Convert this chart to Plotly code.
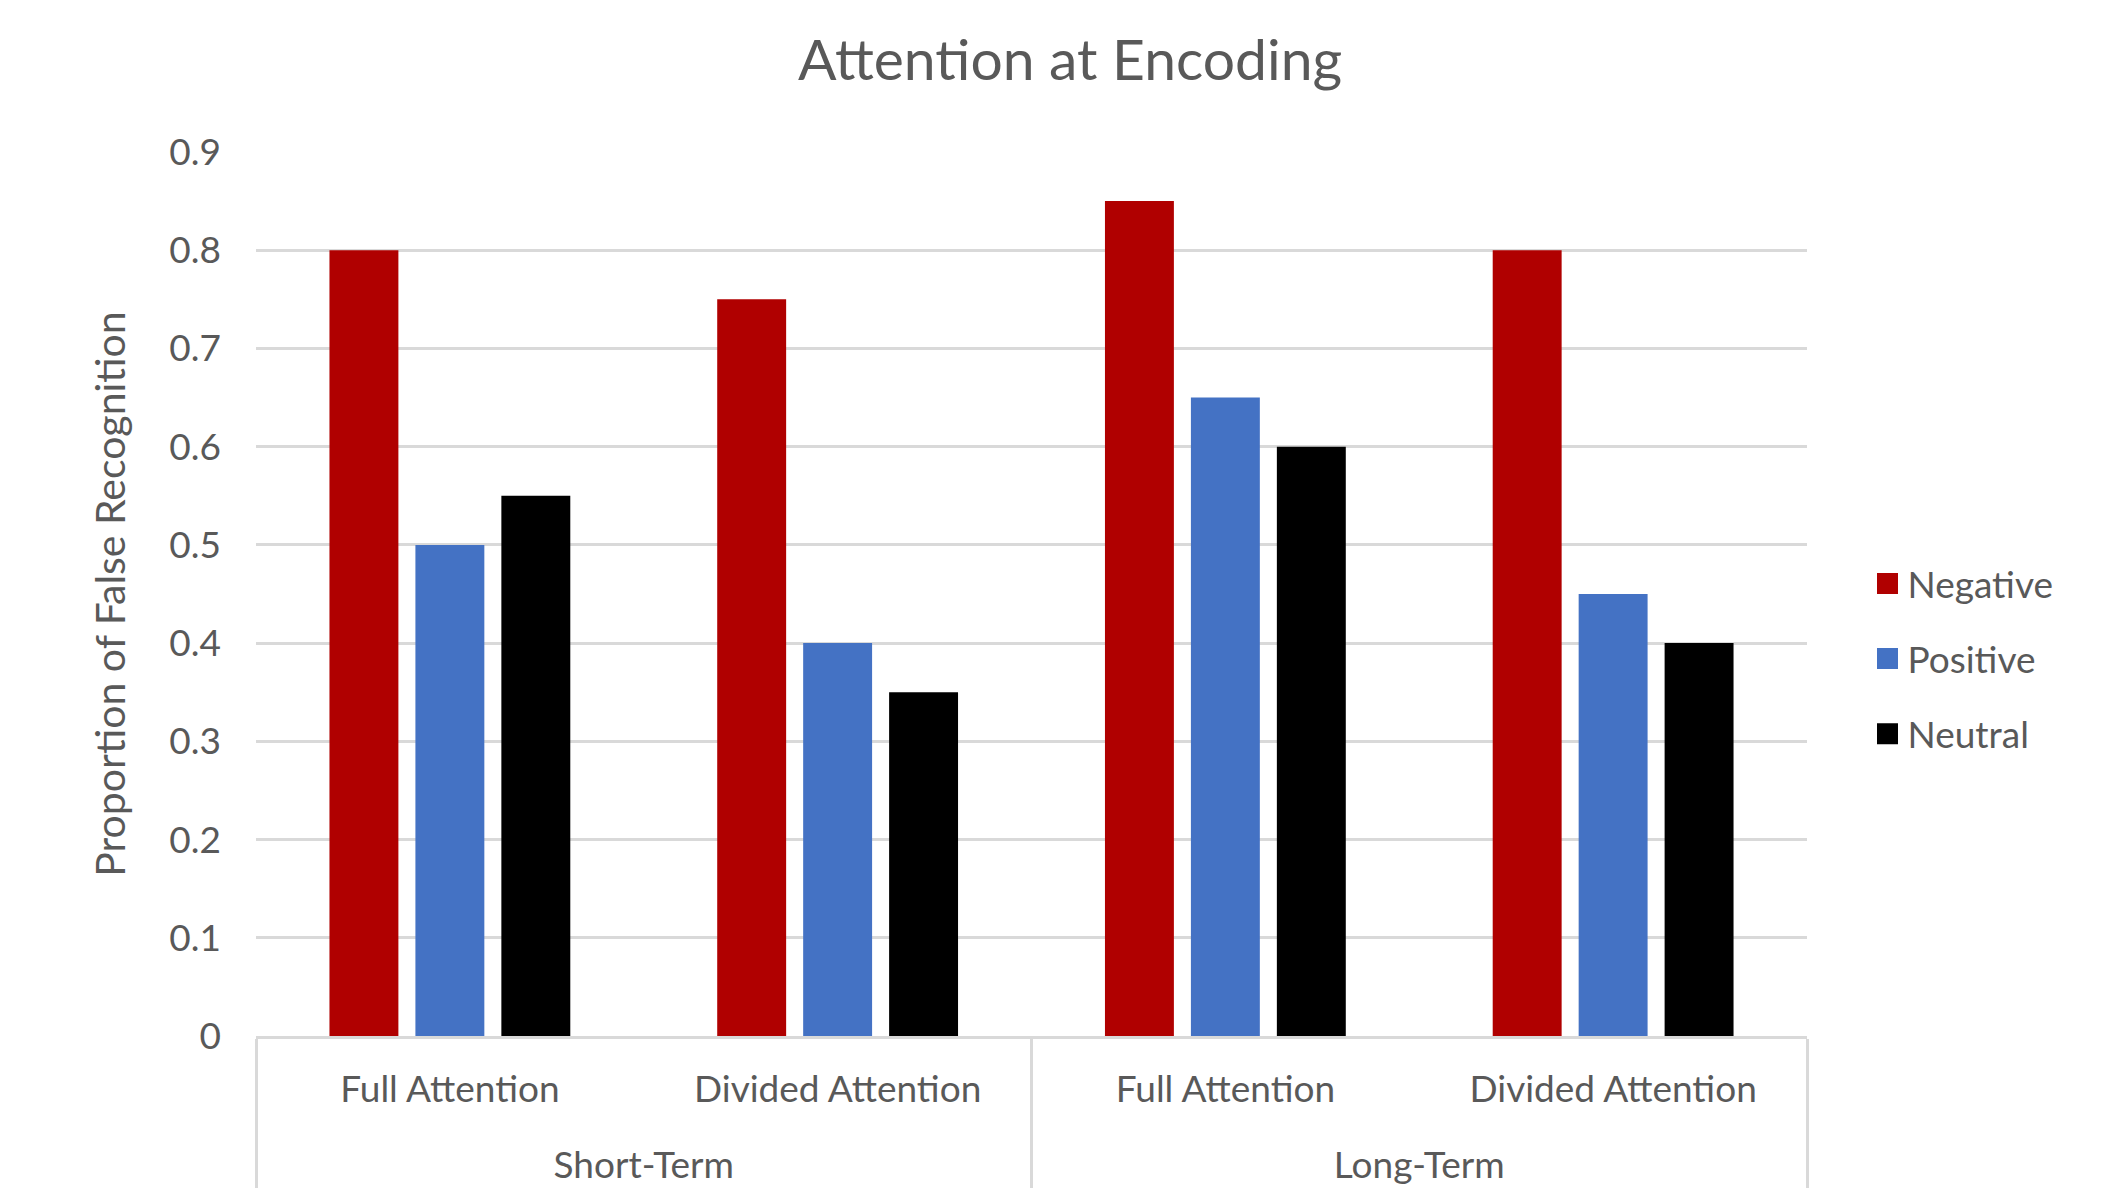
import plotly.graph_objects as go

# Data
periods = ["Short-Term", "Short-Term", "Long-Term", "Long-Term"]
conditions = ["Full Attention", "Divided Attention", "Full Attention", "Divided Attention"]
negative = [0.80, 0.75, 0.85, 0.80]
positive = [0.50, 0.40, 0.65, 0.45]
neutral = [0.55, 0.35, 0.60, 0.40]
series_names = ["Negative", "Positive", "Neutral"]
y_ticks = [0, 0.1, 0.2, 0.3, 0.4, 0.5, 0.6, 0.7, 0.8, 0.9]

# Styling
colors = ["#B00000", "#4472C4", "#000000"]
font_family = "Lato"
text_color = "#595959"
grid_color = "#D9D9D9"

# Outer group labels sit one blank line lower than plotly's default spacing
period_labels = ["\u00a0<br>" + p for p in periods]

fig = go.Figure()

for name, values, color in zip(series_names, [negative, positive, neutral], colors):
    fig.add_trace(go.Bar(
        x=[period_labels, conditions],
        y=values,
        name=name,
        marker=dict(color=color, line=dict(width=0)),
        showlegend=False,
    ))

# Legend entries with larger square swatches
for name, color in zip(series_names, colors):
    fig.add_trace(go.Scatter(
        x=[period_labels[:1], conditions[:1]],
        y=[None],
        name=name,
        mode="markers",
        marker=dict(symbol="square", size=16, color=color,
                    line=dict(width=5, color=color)),
        legendgroup=name,
        showlegend=True,
        hoverinfo="skip",
    ))

fig.update_layout(
    width=2119,
    height=1197,
    autosize=False,
    margin=dict(l=256, r=312, t=152, b=161),
    paper_bgcolor="white",
    plot_bgcolor="white",
    barmode="group",
    bargap=0.335,
    bargroupgap=0.198,
    font=dict(family=font_family, color=text_color),
    title=dict(
        text="Attention at Encoding",
        font=dict(family=font_family, size=57, color=text_color),
        x=0.505, xanchor="center",
        y=0.95, yanchor="middle",
        xref="container", yref="container",
    ),
    legend=dict(
        font=dict(family=font_family, size=37, color=text_color),
        x=1.039, xanchor="left",
        y=0.4265, yanchor="middle",
        traceorder="grouped",
        tracegroupgap=24,
        bgcolor="rgba(0,0,0,0)",
    ),
    showlegend=True,
)

fig.update_xaxes(
    type="multicategory",
    showline=True,
    linecolor=grid_color,
    linewidth=2.7,
    ticks="",
    showgrid=False,
    showdividers=True,
    dividercolor=grid_color,
    dividerwidth=2.5,
    tickfont=dict(family=font_family, size=37, color=text_color),
    ticklabelstandoff=19,
)

fig.update_yaxes(
    range=[0, 0.9],
    tickvals=y_ticks,
    showgrid=True,
    gridcolor=grid_color,
    gridwidth=2.7,
    zeroline=False,
    showline=False,
    ticks="",
    tickfont=dict(family=font_family, size=37, color=text_color),
    ticklabelstandoff=34,
    title=dict(
        text="Proportion of False Recognition",
        font=dict(family=font_family, size=41, color=text_color),
        standoff=30,
    ),
    automargin=False,
)

fig.write_html("out.html")
